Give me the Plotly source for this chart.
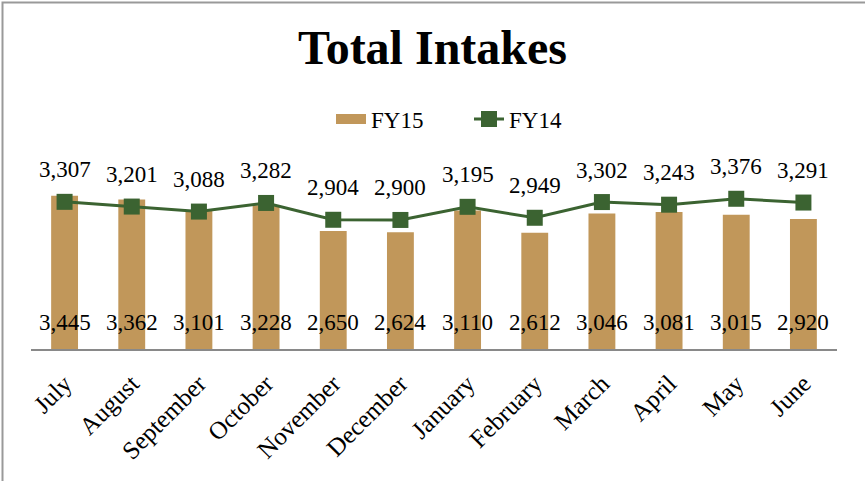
import plotly.graph_objects as go

months = ["July", "August", "September", "October", "November", "December",
          "January", "February", "March", "April", "May", "June"]
fy15 = [3445, 3362, 3101, 3228, 2650, 2624, 3110, 2612, 3046, 3081, 3015, 2920]
fy14 = [3307, 3201, 3088, 3282, 2904, 2900, 3195, 2949, 3302, 3243, 3376, 3291]

W, H = 865, 481
ML, MR, MT, MB = 31, 28, 171, 132
PW, PH = W - ML - MR, H - MT - MB

FONT = "Liberation Serif"
BAR_C = "#C1975A"
LINE_C = "#3B6331"

def fmt(v):
    return f"{v:,}"

fig = go.Figure()
fig.add_trace(go.Bar(
    x=months, y=fy15, name="FY15", marker=dict(color=BAR_C, line=dict(width=0)),
    showlegend=False, legendgroup="fy15", hoverinfo="x+y",
))
# legend stand-in for the bar series (wide swatch like the original)
fig.add_trace(go.Scatter(
    x=[None], y=[None], name="FY15", mode="lines", legendgroup="fy15",
    line=dict(color=BAR_C, width=14),
))
fig.add_trace(go.Scatter(
    x=months, y=fy14, name="FY14", mode="lines+markers",
    line=dict(color=LINE_C, width=3),
    marker=dict(symbol="square", size=16, color=LINE_C),
    cliponaxis=False,
))
for m, v in zip(months, fy14):
    fig.add_annotation(x=m, y=v, text=fmt(v), showarrow=False, yshift=32,
                       font=dict(family=FONT, size=23, color="black"))
for m, v in zip(months, fy15):
    fig.add_annotation(x=m, y=0, text=fmt(v), showarrow=False, yanchor="bottom",
                       yshift=12, font=dict(family=FONT, size=23, color="black"))

def px_x(p):
    return (p - ML) / PW

def px_y(p):
    return (H - MB - p) / PH

fig.add_shape(type="rect", xref="paper", yref="paper",
              x0=px_x(2.5), x1=px_x(W + 10), y0=px_y(H + 10), y1=px_y(2.5),
              line=dict(color="#999999", width=2), fillcolor="rgba(0,0,0,0)", layer="below")

fig.update_layout(
    width=W, height=H,
    margin=dict(l=ML, r=MR, t=MT, b=MB, autoexpand=False),
    paper_bgcolor="white", plot_bgcolor="white",
    bargap=0.6,
    title=dict(text="<b>Total Intakes</b>", x=0.5, xref="container", xanchor="center",
               y=1 - 47 / H, yref="container", yanchor="middle",
               font=dict(family=FONT, size=48, color="black")),
    legend=dict(orientation="h", x=px_x(331), xanchor="left", y=px_y(119), yanchor="middle",
                font=dict(family=FONT, size=23, color="black"),
                entrywidth=93, entrywidthmode="pixels",
                bgcolor="rgba(0,0,0,0)", traceorder="normal"),
    xaxis=dict(showline=True, linecolor="#898989", linewidth=2, tickangle=-45,
               automargin=False, range=[-0.5, len(months) - 0.5],
               ticks="outside", ticklen=8, tickcolor="rgba(0,0,0,0)",
               tickfont=dict(family=FONT, size=25, color="black"),
               showgrid=False, fixedrange=True),
    yaxis=dict(range=[0, 4000], visible=False, showgrid=False, fixedrange=True,
               automargin=False),
    showlegend=True,
)

fig.write_html("out.html", config={"displayModeBar": False},
               post_script="document.body.style.margin='0';")
